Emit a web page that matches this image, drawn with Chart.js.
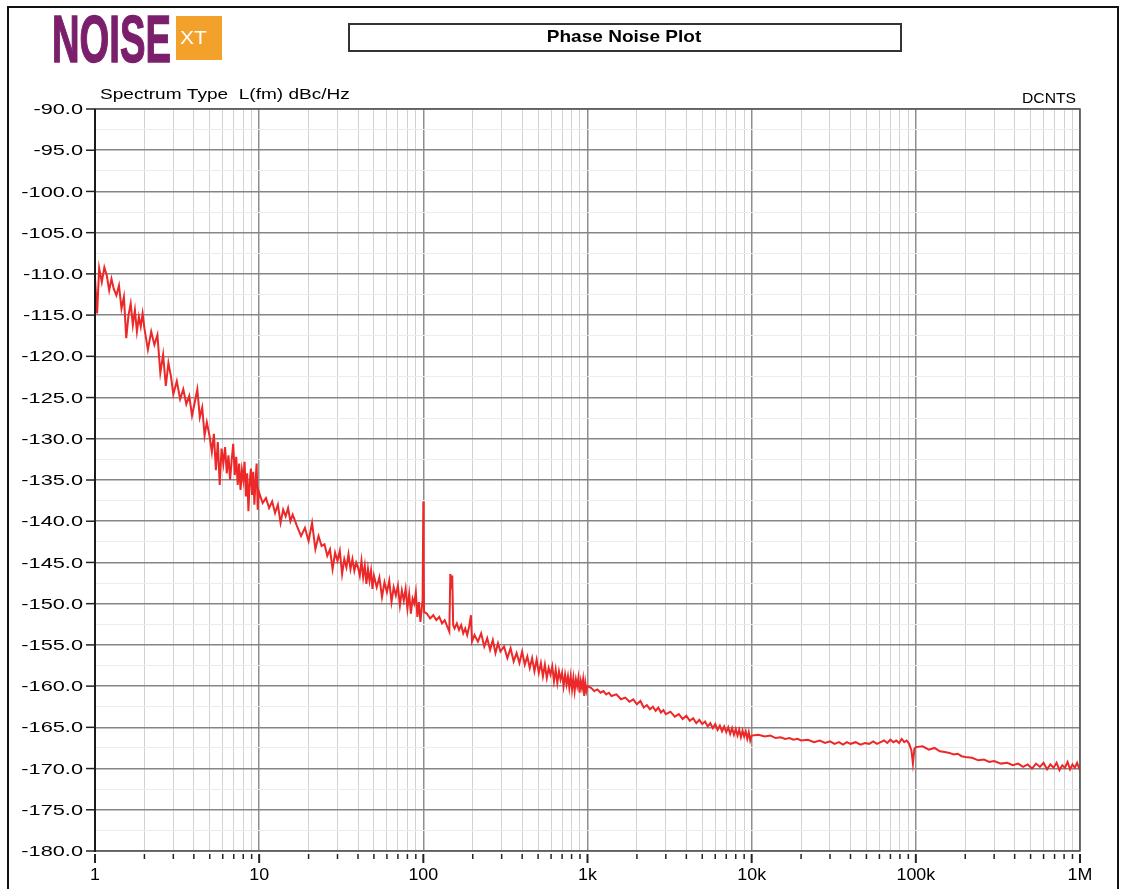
<!DOCTYPE html>
<html>
<head>
<meta charset="utf-8">
<script src="https://cdn.jsdelivr.net/npm/chart.js@4"></script>
<style>
  html, body { margin: 0; padding: 0; background: #fff; }
  canvas { display: block; }
</style>
</head>
<body>
<canvas id="plot" width="1128" height="889"></canvas>
<script>
// offset frequency (Hz) and L(fm) (dBc/Hz), one pair of arrays per decade
const freqDec1 = [
  1.00, 1.03, 1.06, 1.10, 1.14, 1.18, 1.22, 1.26, 1.30, 1.35,
  1.40, 1.45, 1.50, 1.55, 1.60, 1.65, 1.70, 1.75, 1.80, 1.85,
  1.90, 1.95, 2.00, 2.10, 2.20, 2.30, 2.40, 2.50, 2.60, 2.70,
  2.80, 2.90, 3.00, 3.15, 3.30, 3.45, 3.60, 3.75, 3.90, 4.05,
  4.20, 4.35, 4.50, 4.65, 4.80, 5.00, 5.15, 5.30, 5.45, 5.60,
  5.75, 5.90, 6.05, 6.20, 6.35, 6.50, 6.65, 6.80, 6.95, 7.10,
  7.25, 7.40, 7.55, 7.70, 7.85, 8.00, 8.15, 8.30, 8.45, 8.60,
  8.75, 8.90, 9.05, 9.20, 9.35, 9.50, 9.65, 9.80, 9.95
]
const dbcDec1 = [
  -110.5, -114.8, -109.3, -111.0, -109.2, -110.2, -112.0, -110.6, -111.8, -112.6,
  -111.4, -114.2, -112.8, -117.8, -115.0, -113.6, -116.2, -114.4, -117.0, -115.2,
  -116.4, -114.8, -116.6, -119.2, -117.0, -118.6, -117.4, -122.0, -119.8, -123.6,
  -120.8, -122.4, -124.6, -123.0, -125.2, -124.0, -125.8, -124.8, -127.2, -125.6,
  -124.0, -127.4, -126.2, -129.6, -128.0, -129.8, -131.6, -129.4, -133.8, -130.4,
  -135.6, -131.2, -133.0, -131.0, -134.2, -132.0, -135.0, -132.6, -130.6, -134.4,
  -132.2, -135.6, -133.0, -136.2, -133.8, -135.0, -132.8, -137.0, -134.2, -138.8,
  -135.4, -133.6, -136.8, -134.0, -138.0, -135.2, -133.0, -138.6, -136.4
]

const freqDec2 = [
  10.5, 11, 11.5, 12, 12.5, 13, 13.5, 14, 14.5, 15,
  15.5, 16, 17, 18, 19, 20, 21, 22, 23, 24,
  25, 26, 27, 28, 29, 30, 31, 32, 33, 34,
  35, 36, 37, 38, 39, 40, 41, 42, 43, 44,
  45, 46, 47, 48, 49, 50, 52, 54, 56, 58,
  60, 62, 64, 66, 68, 70, 72, 74, 76, 78,
  80, 82, 84, 86, 88, 90, 92, 94, 96, 98,
  99, 100, 100.5, 101
]
const dbcDec2 = [
  -137.8, -137.2, -138.4, -137.6, -139.0, -138.0, -140.2, -138.6, -139.4, -138.4,
  -140.0, -139.2, -140.6, -141.8, -140.8, -142.4, -140.2, -143.4, -141.8, -143.0,
  -142.8, -144.2, -143.4, -145.8, -143.8, -144.8, -143.6, -146.4, -144.6, -145.6,
  -144.0, -145.8, -144.6, -146.0, -145.0, -145.6, -146.6, -144.8, -146.8, -145.4,
  -147.6, -145.8, -147.2, -146.0, -148.2, -146.6, -148.0, -146.8, -149.2, -147.4,
  -148.6, -147.2, -149.8, -148.0, -149.0, -147.8, -150.2, -148.4, -149.6, -148.2,
  -150.6, -148.8, -151.2, -149.4, -150.0, -148.6, -151.6, -149.8, -152.2, -150.4,
  -149.6, -137.6, -145.0, -151.0
]

const freqDec3 = [
  105, 110, 115, 120, 125, 130, 135, 140, 144, 146,
  148, 150, 152, 155, 160, 165, 170, 175, 180, 185,
  190, 195, 198, 205, 215, 225, 235, 245, 255, 265,
  275, 285, 295, 310, 325, 340, 355, 370, 385, 400,
  415, 430, 445, 460, 475, 490, 505, 520, 535, 550,
  565, 580, 595, 610, 625, 640, 655, 670, 685, 700,
  715, 730, 745, 760, 775, 790, 805, 820, 835, 850,
  865, 880, 895, 910, 925, 940, 955, 970, 985, 1000
]
const dbcDec3 = [
  -151.2, -151.8, -151.4, -152.0, -151.6, -152.4, -152.0, -152.8, -153.4, -146.4,
  -147.4, -146.6, -152.6, -153.0, -152.4, -153.2, -152.6, -153.6, -153.0, -153.8,
  -152.8, -151.4, -154.6, -153.8, -154.6, -153.6, -155.2, -154.2, -155.6, -154.4,
  -156.0, -154.8, -155.8, -155.2, -156.6, -155.4, -157.0, -156.0, -157.2, -155.8,
  -157.4, -156.4, -157.8, -156.6, -158.2, -156.8, -158.4, -157.2, -158.8, -157.4,
  -159.0, -157.8, -158.6, -157.6, -159.4, -158.0, -159.6, -158.2, -159.2, -158.4,
  -160.0, -158.6, -159.8, -158.8, -160.2, -158.8, -160.4, -159.0, -160.6, -159.2,
  -160.0, -159.0, -160.8, -159.4, -160.2, -159.2, -161.2, -159.6, -160.6, -160.0
]

const freqDec4 = [
  1050, 1100, 1150, 1200, 1250, 1300, 1350, 1400, 1500, 1600,
  1700, 1800, 1900, 2000, 2100, 2200, 2300, 2400, 2500, 2600,
  2700, 2800, 2900, 3000, 3200, 3400, 3600, 3800, 4000, 4200,
  4400, 4600, 4800, 5000, 5200, 5400, 5600, 5800, 6000, 6200,
  6400, 6600, 6800, 7000, 7200, 7400, 7600, 7800, 8000, 8200,
  8400, 8600, 8800, 9000, 9200, 9400, 9600, 9800, 10000
]
const dbcDec4 = [
  -160.2, -160.6, -160.4, -160.8, -160.6, -161.0, -160.8, -161.2, -161.0, -161.6,
  -161.4, -161.9, -161.6, -162.2, -161.8, -162.6, -162.3, -162.8, -162.5, -163.0,
  -162.6, -163.2, -162.9, -163.4, -163.1, -163.7, -163.4, -164.0, -163.6, -164.2,
  -163.9, -164.5, -164.1, -164.6, -164.3, -164.9, -164.5, -165.1, -164.6, -165.3,
  -164.8, -165.5, -164.9, -165.6, -165.0, -165.8, -165.1, -165.9, -165.2, -166.0,
  -165.3, -166.2, -165.4, -166.1, -165.5, -166.4, -165.6, -166.6, -166.0
]

const freqDec5 = [
  11000, 12000, 13000, 14000, 15000, 16000, 17000, 18000, 19000, 20000,
  22000, 24000, 26000, 28000, 30000, 32000, 34000, 36000, 38000, 40000,
  43000, 46000, 49000, 52000, 55000, 58000, 61000, 64000, 67000, 70000,
  73000, 76000, 79000, 82000, 85000, 88000, 91000, 94000, 96000, 98000,
  100000
]
const dbcDec5 = [
  -165.9, -166.1, -166.0, -166.3, -166.2, -166.4, -166.3, -166.5, -166.4, -166.6,
  -166.5, -166.8, -166.6, -166.9, -166.7, -167.0, -166.8, -167.1, -166.8, -167.0,
  -166.8, -167.1, -166.9, -167.0, -166.7, -167.0, -166.8, -166.6, -166.9, -166.5,
  -166.8, -166.6, -166.9, -166.4, -166.8, -166.6, -167.0, -167.8, -169.4, -167.6,
  -167.4
]

const freqDec6 = [
  110000, 120000, 130000, 140000, 150000, 160000, 170000, 180000, 190000, 200000,
  220000, 240000, 260000, 280000, 300000, 330000, 360000, 390000, 420000, 450000,
  480000, 510000, 540000, 570000, 600000, 630000, 660000, 690000, 720000, 750000,
  780000, 810000, 840000, 870000, 900000, 930000, 960000, 990000, 1000000
]
const dbcDec6 = [
  -167.3, -167.7, -167.5, -167.9, -168.0, -168.1, -168.3, -168.2, -168.5, -168.6,
  -168.7, -169.0, -168.9, -169.2, -169.1, -169.4, -169.3, -169.6, -169.4, -169.8,
  -169.5, -170.0, -169.4, -169.8, -169.3, -170.1, -169.5, -169.9, -169.3, -170.2,
  -169.6, -169.9, -169.2, -170.1, -169.5, -169.9, -169.3, -170.0, -169.6
]

const decadeValues = [1, 10, 100, 1000, 10000, 100000, 1000000]
const decadeLabels = ['1', '10', '100', '1k', '10k', '100k', '1M']
const yMajorValues = [-90, -95, -100, -105, -110, -115, -120, -125, -130, -135,
  -140, -145, -150, -155, -160, -165, -170, -175, -180]

const freqHz = [].concat(freqDec1, freqDec2, freqDec3, freqDec4, freqDec5, freqDec6)
const lfmDbc = [].concat(dbcDec1, dbcDec2, dbcDec3, dbcDec4, dbcDec5, dbcDec6)
const trace = freqHz.map((f, i) => ({ x: f, y: lfmDbc[i] }))

const isDecade = v => Math.abs(Math.log10(v) - Math.round(Math.log10(v))) < 1e-9
const isMajorY = v => Math.abs(v % 5) < 1e-9

function wideText (ctx, text, x, y, sx, align) {
  ctx.save()
  ctx.translate(x, y)
  ctx.scale(sx, 1)
  ctx.textAlign = align
  ctx.fillText(text, 0, 0)
  ctx.restore()
}

const decorations = {
  id: 'decorations',
  afterDraw (chart) {
    const { ctx, chartArea: area, scales } = chart
    const xs = scales.x
    const ys = scales.y
    ctx.save()

    // page border
    ctx.strokeStyle = '#111'
    ctx.lineWidth = 2
    ctx.beginPath()
    ctx.moveTo(8, 889)
    ctx.lineTo(8, 7)
    ctx.lineTo(1118, 7)
    ctx.lineTo(1118, 889)
    ctx.stroke()

    // logo
    ctx.fillStyle = '#7b1e6c'
    ctx.font = 'bold 67px "Liberation Sans"'
    ctx.textBaseline = 'alphabetic'
    const w = ctx.measureText('NOISE').width
    wideText(ctx, 'NOISE', 52, 62, 119 / w, 'left')
    ctx.strokeStyle = '#7b1e6c'
    ctx.lineWidth = 1.5
    ctx.save()
    ctx.translate(52, 62)
    ctx.scale(119 / w, 1)
    ctx.strokeText('NOISE', 0, 0)
    ctx.restore()
    ctx.fillStyle = '#f2a12b'
    ctx.fillRect(176, 16, 46, 44)
    ctx.fillStyle = '#fff'
    ctx.font = '19px "Liberation Sans"'
    wideText(ctx, 'XT', 180, 44, 1.1, 'left')

    // title box
    ctx.strokeStyle = '#333'
    ctx.lineWidth = 2
    ctx.strokeRect(349, 24, 552, 27)
    ctx.fillStyle = '#000'
    ctx.font = 'bold 17px "Liberation Sans"'
    ctx.textBaseline = 'middle'
    wideText(ctx, 'Phase Noise Plot', 624, 37.5, 1.12, 'center')

    // captions above the plot
    ctx.textBaseline = 'alphabetic'
    ctx.font = '15px "Liberation Sans"'
    wideText(ctx, 'Spectrum Type  L(fm) dBc/Hz', 100, 99, 1.27, 'left')
    ctx.font = '14px "Liberation Sans"'
    wideText(ctx, 'DCNTS', 1076, 103, 1.12, 'right')

    // frame
    ctx.strokeStyle = '#555'
    ctx.lineWidth = 1.5
    ctx.strokeRect(area.left, area.top, area.right - area.left, area.bottom - area.top)
    ctx.strokeStyle = '#1a1a1a'
    ctx.lineWidth = 2
    ctx.beginPath()
    ctx.moveTo(area.left, area.top)
    ctx.lineTo(area.left, area.bottom + 1)
    ctx.stroke()

    // y ticks and labels
    ctx.font = '15px "Liberation Sans"'
    ctx.textBaseline = 'middle'
    ctx.fillStyle = '#000'
    yMajorValues.forEach(v => {
      const py = ys.getPixelForValue(v)
      ctx.strokeStyle = '#222'
      ctx.lineWidth = 1.5
      ctx.beginPath()
      ctx.moveTo(area.left - 9, py)
      ctx.lineTo(area.left, py)
      ctx.stroke()
      wideText(ctx, v.toFixed(1), area.left - 12, py + 1, 1.45, 'right')
    })

    // x ticks and labels
    xs.ticks.forEach(t => {
      const px = xs.getPixelForValue(t.value)
      ctx.strokeStyle = '#222'
      ctx.lineWidth = isDecade(t.value) ? 2 : 1.5
      ctx.beginPath()
      ctx.moveTo(px, area.bottom + 3)
      ctx.lineTo(px, area.bottom + (isDecade(t.value) ? 12 : 8))
      ctx.stroke()
    })
    ctx.font = '17px "Liberation Sans"'
    decadeValues.forEach((v, i) => {
      wideText(ctx, decadeLabels[i], xs.getPixelForValue(v), 875, 1.05, 'center')
    })

    ctx.restore()
  }
}

new Chart(document.getElementById('plot'), {
  type: 'line',
  data: {
    datasets: [{
      data: trace,
      borderColor: 'rgb(236, 40, 40)',
      borderWidth: 2,
      pointRadius: 0,
      tension: 0
    }]
  },
  options: {
    responsive: false,
    animation: false,
    layout: { padding: { top: 109, right: 48, bottom: 0, left: 0 } },
    plugins: { legend: { display: false }, tooltip: { enabled: false } },
    scales: {
      x: {
        type: 'logarithmic',
        min: 1,
        max: 1000000,
        afterBuildTicks: scale => {
          const ticks = []
          decadeValues.forEach((d, i) => {
            const last = i === decadeValues.length - 1
            for (let m = 1; m <= (last ? 1 : 9); m++) ticks.push({ value: d * m })
          })
          scale.ticks = ticks
        },
        afterFit: scale => { scale.height = 38 },
        ticks: { display: false },
        border: { display: false },
        grid: {
          drawTicks: false,
          color: c => isDecade(c.tick.value) ? '#8e8e8e' : '#d2d2d2',
          lineWidth: c => isDecade(c.tick.value) ? 1.5 : 1
        }
      },
      y: {
        min: -180,
        max: -90,
        afterFit: scale => { scale.width = 95 },
        ticks: { display: false, stepSize: 2.5 },
        border: { display: false },
        grid: {
          drawTicks: false,
          color: c => isMajorY(c.tick.value) ? '#858585' : '#ececec',
          lineWidth: c => isMajorY(c.tick.value) ? 1.6 : 1
        }
      }
    }
  },
  plugins: [decorations]
})
</script>
</body>
</html>
